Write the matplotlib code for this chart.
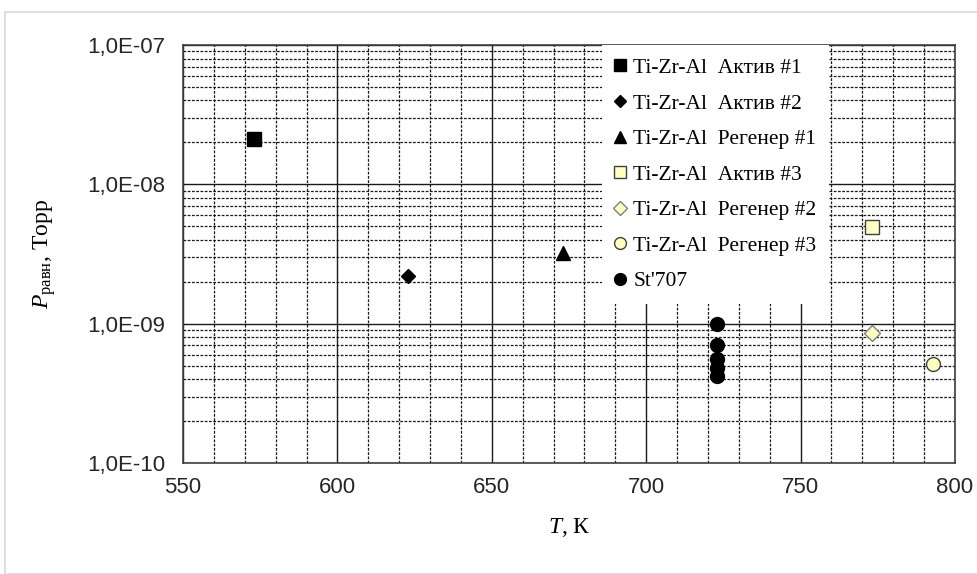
import numpy as np
import matplotlib.pyplot as plt
from matplotlib.ticker import FixedLocator, FuncFormatter, LogLocator, MultipleLocator
from matplotlib.patches import Rectangle

# data
labels = ['Ti-Zr-Al  Актив #1', 'Ti-Zr-Al  Актив #2', 'Ti-Zr-Al  Регенер #1',
          'Ti-Zr-Al  Актив #3', 'Ti-Zr-Al  Регенер #2', 'Ti-Zr-Al  Регенер #3', "St'707"]
temps = [[573], [623], [673], [773], [773], [793], [723, 723, 723, 723, 723]]
press = [[2.1e-8], [2.2e-9], [3.2e-9], [4.9e-9], [8.6e-10], [5.1e-10],
         [1.0e-9, 7.0e-10, 5.6e-10, 4.8e-10, 4.2e-10]]

markers = ['s', 'D', '^', 's', 'D', 'o', 'o']
faces = ['black', 'black', 'black', '#ffffc0', '#ffffc0', '#ffffc0', 'black']
edges = ['black', 'black', 'black', '#404040', '#808080', '#404040', 'black']
sizes = [10, 7, 10, 10, 8, 10, 10]

plt.rcParams['font.family'] = ['Liberation Serif', 'DejaVu Serif']
plt.rcParams['mathtext.fontset'] = 'custom'
plt.rcParams['mathtext.rm'] = 'Liberation Serif'
plt.rcParams['mathtext.it'] = 'Liberation Serif:italic'

fig = plt.figure(figsize=(9.77, 5.74), dpi=100)
fig.patches.append(Rectangle((5 / 977, 0), 1, 1 - 12 / 574, transform=fig.transFigure,
                             fill=False, edgecolor='#d9d9d9', linewidth=1.2))
ax = fig.add_axes([183 / 977, 1 - 463 / 574, 772 / 977, 418 / 574])

for i in range(len(labels)):
    ax.plot(temps[i], press[i], linestyle='none', marker=markers[i], markersize=sizes[i],
            markerfacecolor=faces[i], markeredgecolor=edges[i], markeredgewidth=1,
            label=labels[i], zorder=3)

ax.set_yscale('log')
ax.set_xlim(550, 800)
ax.set_ylim(1e-10, 1e-7)
ax.xaxis.set_major_locator(MultipleLocator(50))
ax.xaxis.set_minor_locator(MultipleLocator(10))
ax.yaxis.set_major_locator(FixedLocator([1e-10, 1e-9, 1e-8, 1e-7]))
ax.yaxis.set_minor_locator(LogLocator(base=10, subs=np.arange(2, 10)))
ax.yaxis.set_minor_formatter(FuncFormatter(lambda v, p: ''))
ax.yaxis.set_major_formatter(FuncFormatter(lambda v, p: ('%.1E' % v).replace('.', ',')))

ax.grid(which='major', color='#1a1a1a', linewidth=1.0, linestyle='-')
ax.grid(which='minor', color='#1a1a1a', linewidth=0.9, linestyle=(0, (2.2, 1.2)))
ax.set_axisbelow(True)
for s in ax.spines.values():
    s.set_color('#404040')
    s.set_linewidth(1.2)

ax.tick_params(which='both', length=0)
ax.tick_params(axis='x', pad=10)
ax.tick_params(axis='y', pad=13)
for t in ax.get_xticklabels() + ax.get_yticklabels():
    t.set_fontfamily('Liberation Sans')
    t.set_fontsize(16)
    t.set_color('#262626')

ax.set_xlabel('$T$, К', fontsize=17, labelpad=13)
ax.set_ylabel('$P_{\\mathrm{равн}}$, Торр', fontsize=17, labelpad=21)

leg = ax.legend(loc='upper left', bbox_to_anchor=((602 - 183) / 772, 1.0), frameon=True,
                fancybox=False, framealpha=1, edgecolor='white', fontsize=15.5,
                handlelength=0.5, handletextpad=0.35, labelspacing=0.72,
                borderpad=0.6, borderaxespad=0, markerscale=0.85)
leg.get_frame().set_linewidth(0)

fig.savefig('out.png', dpi=100, facecolor='white')
